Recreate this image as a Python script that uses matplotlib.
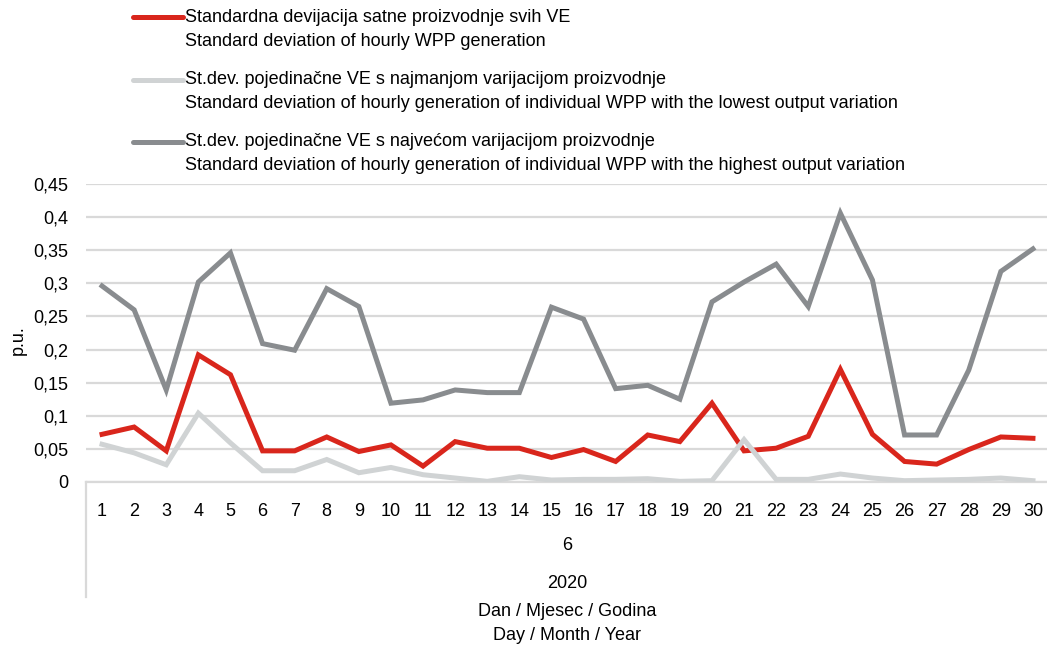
import matplotlib
matplotlib.use("Agg")
import matplotlib.pyplot as plt
from matplotlib.lines import Line2D

plt.rcParams['font.family'] = ['Liberation Sans Narrow', 'Liberation Sans', 'DejaVu Sans']

days = list(range(1, 31))

sd_all = [0.072, 0.083, 0.047, 0.192, 0.162, 0.047, 0.047, 0.068, 0.046, 0.056,
          0.024, 0.061, 0.051, 0.051, 0.037, 0.049, 0.031, 0.071, 0.061, 0.119,
          0.047, 0.051, 0.069, 0.170, 0.072, 0.031, 0.027, 0.049, 0.068, 0.066]
sd_lowest = [0.057, 0.044, 0.026, 0.104, 0.059, 0.017, 0.017, 0.034, 0.014, 0.022,
             0.011, 0.006, 0.001, 0.008, 0.003, 0.004, 0.004, 0.005, 0.001, 0.002,
             0.064, 0.004, 0.004, 0.012, 0.006, 0.002, 0.003, 0.004, 0.006, 0.002]
sd_highest = [0.296, 0.260, 0.139, 0.302, 0.346, 0.209, 0.199, 0.292, 0.265, 0.119,
              0.124, 0.139, 0.135, 0.135, 0.264, 0.246, 0.141, 0.146, 0.125, 0.272,
              0.302, 0.329, 0.265, 0.406, 0.305, 0.071, 0.071, 0.169, 0.318, 0.352]

labels = [
    ("Standardna devijacija satne proizvodnje svih VE",
     "Standard deviation of hourly WPP generation"),
    ("St.dev. pojedinačne VE s najmanjom varijacijom proizvodnje",
     "Standard deviation of hourly generation of individual WPP with the lowest output variation"),
    ("St.dev. pojedinačne VE s najvećom varijacijom proizvodnje",
     "Standard deviation of hourly generation of individual WPP with the highest output variation"),
]
colors = ["#d9261c", "#d0d3d4", "#898c8f"]
series = [sd_all, sd_lowest, sd_highest]

W, H = 1047, 651
FS = 13
fig = plt.figure(figsize=(W / 100, H / 100), dpi=100)
ax = fig.add_axes([86 / W, 1 - 482 / H, 963 / W, 298 / H])

for vals, c in zip(series, colors):
    ax.plot(days, vals, color=c, lw=3.6, solid_joinstyle="miter", zorder=3)

ax.set_xlim(0.5, 30.5)
ax.set_ylim(0, 0.45)
yt = [i * 0.05 for i in range(10)]
ax.set_yticks(yt)
ax.set_yticklabels(["0"] + [f"{v:.2f}".rstrip("0").replace(".", ",") for v in yt[1:]])
ax.set_xticks(days)
ax.set_xticklabels([str(d) for d in days])
ax.tick_params(length=0, labelsize=FS, colors="#000000")
ax.tick_params(axis="x", pad=15)
ax.tick_params(axis="y", pad=13)
ax.grid(axis="y", color="#d9d9d9", lw=1.6, zorder=0)
for s in ["top", "right", "left"]:
    ax.spines[s].set_visible(False)
ax.spines["bottom"].set_color("#d9d9d9")
ax.spines["bottom"].set_linewidth(1.6)

# category levels below the axis
ax.plot([0, 0], [0, -115 / 298], transform=ax.transAxes, color="#d9d9d9",
        lw=1.6, clip_on=False)
ax.text(0.5, -64 / 298, "6", transform=ax.transAxes, ha="center", va="center", fontsize=FS)
ax.text(0.5, -101 / 298, "2020", transform=ax.transAxes, ha="center", va="center", fontsize=FS)
fig.text(567 / W, 1 - 612 / H, "Dan / Mjesec / Godina", ha="center", va="center", fontsize=FS)
fig.text(567 / W, 1 - 636 / H, "Day / Month / Year", ha="center", va="center", fontsize=FS)
fig.text(18 / W, 1 - 340 / H, "p.u.", rotation=90, ha="center", va="center", fontsize=FS)

# legend
rows = [(17, 42), (80, 103), (142, 165)]
for (l1, l2), c, (y1, y2) in zip(labels, colors, rows):
    fig.add_artist(Line2D([133 / W, 183 / W], [1 - y1 / H, 1 - y1 / H], color=c, lw=3.6,
                          solid_capstyle="round"))
    fig.text(185 / W, 1 - y1 / H, l1, ha="left", va="center", fontsize=FS)
    fig.text(185 / W, 1 - y2 / H, l2, ha="left", va="center", fontsize=FS)

fig.savefig("out.png", dpi=100)
